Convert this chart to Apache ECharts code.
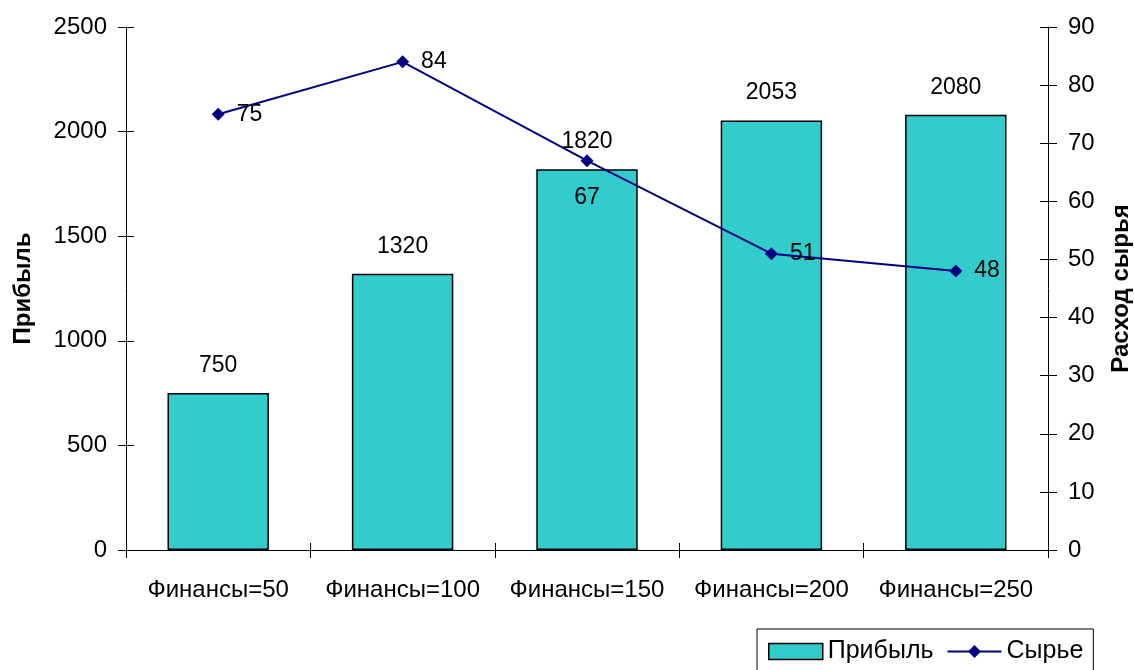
<!DOCTYPE html>
<html>
<head>
<meta charset="utf-8">
<script src="https://cdn.jsdelivr.net/npm/echarts@6/dist/echarts.min.js"></script>
<style>
  html, body { margin: 0; padding: 0; background: #fff; }
  #chart { width: 1134px; height: 670px; }
</style>
</head>
<body>
<div id="chart"></div>
<script>
// Profit and raw-material usage for each funding level
const categories = ['Финансы=50', 'Финансы=100', 'Финансы=150', 'Финансы=200', 'Финансы=250'];
const profit = [750, 1320, 1820, 2053, 2080];
const rawMaterial = [75, 84, 67, 51, 48];

const FONT = '"Liberation Sans", Arial, sans-serif';
const TEXT = { color: '#000', fontFamily: FONT, fontSize: 23 };
const AXIS_TEXT = Object.assign({}, TEXT, { fontSize: 24 });
const TITLE = Object.assign({}, TEXT, { fontWeight: 'bold', fontSize: 24 });

// Where each value label of the line sits relative to its marker
const lineLabelPos = ['right', 'right', 'bottom', 'right', 'right'];

const plain = v => String(v);
const tickStyle = { color: '#000', width: 1 };

// Axes without labels that draw the inner half of the crossing ticks
const innerTicksY = (max, interval, position) => ({
  type: 'value', min: 0, max: max, interval: interval, position: position,
  axisLine: { show: false },
  axisTick: { show: true, inside: true, length: 8, lineStyle: tickStyle },
  axisLabel: { show: false },
  splitLine: { show: false }
});

const chart = echarts.init(document.getElementById('chart'));
chart.setOption({
  animation: false,
  textStyle: { fontFamily: FONT },
  grid: { left: 126, right: 86, top: 27, bottom: 120, outerBoundsMode: 'none', containLabel: false },
  legend: {
    left: 757, top: 629,
    padding: [10, 10, 10, 11],
    borderColor: '#000', borderWidth: 1,
    itemGap: 13,
    itemWidth: 54, itemHeight: 16,
    textStyle: Object.assign({}, TEXT, { fontSize: 25 }),
    data: [
      { name: 'Прибыль', icon: 'rect', itemStyle: { borderColor: '#000', borderWidth: 1.5 } },
      { name: 'Сырье' }
    ]
  },
  xAxis: [
    {
      type: 'category',
      data: categories,
      axisLine: { lineStyle: { color: '#000', width: 1 } },
      axisTick: { show: true, length: 8, lineStyle: tickStyle },
      axisLabel: Object.assign({}, AXIS_TEXT, { margin: 28, interval: 0 })
    },
    {
      type: 'category',
      data: categories,
      position: 'bottom',
      axisLine: { show: false },
      axisTick: { show: true, inside: true, length: 7, lineStyle: tickStyle },
      axisLabel: { show: false }
    }
  ],
  yAxis: [
    {
      type: 'value', min: 0, max: 2500, interval: 500,
      name: 'Прибыль', nameLocation: 'middle', nameGap: 91, nameRotate: 90,
      nameMoveOverlap: false,
      nameTextStyle: TITLE,
      axisLine: { show: true, lineStyle: { color: '#000' } },
      axisTick: { show: true, length: 8, lineStyle: tickStyle },
      axisLabel: Object.assign({}, AXIS_TEXT, { margin: 19, formatter: plain }),
      splitLine: { show: false }
    },
    {
      type: 'value', min: 0, max: 90, interval: 10, position: 'right',
      name: 'Расход сырья', nameLocation: 'middle', nameGap: 61, nameRotate: 90,
      nameMoveOverlap: false,
      nameTextStyle: TITLE,
      axisLine: { show: true, lineStyle: { color: '#000' } },
      axisTick: { show: true, length: 9, lineStyle: tickStyle },
      axisLabel: Object.assign({}, AXIS_TEXT, { margin: 20, formatter: plain }),
      splitLine: { show: false }
    },
    innerTicksY(2500, 500, 'left'),
    innerTicksY(90, 10, 'right')
  ],
  series: [
    {
      name: 'Прибыль', type: 'bar', yAxisIndex: 0,
      data: profit,
      barWidth: '55%',
      itemStyle: { color: '#33CCCC', borderColor: '#000', borderWidth: 1.5 },
      label: Object.assign({ show: true, position: 'top', distance: 16 }, TEXT)
    },
    {
      name: 'Сырье', type: 'line', yAxisIndex: 1,
      data: rawMaterial.map((v, i) => ({
        value: v,
        label: { position: lineLabelPos[i], distance: lineLabelPos[i] === 'bottom' ? 19 : 12 }
      })),
      color: '#000080',
      lineStyle: { color: '#000080', width: 2 },
      symbol: 'diamond', symbolSize: 13,
      itemStyle: { color: '#000080' },
      label: Object.assign({ show: true }, TEXT)
    }
  ]
});
</script>
</body>
</html>
